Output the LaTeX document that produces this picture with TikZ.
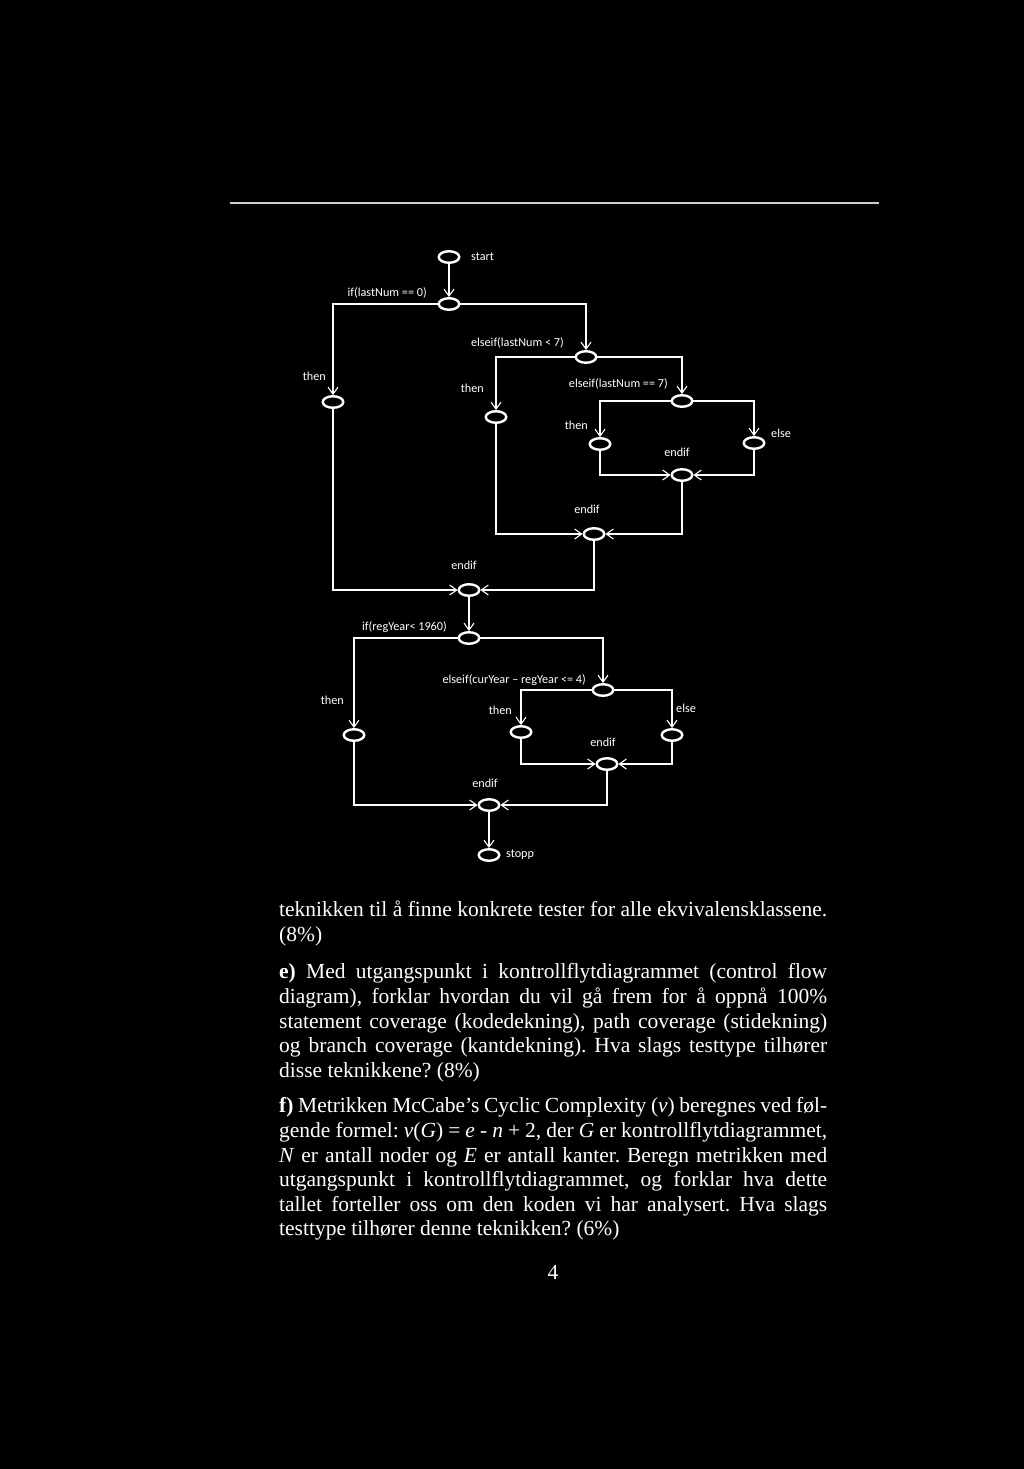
\documentclass[tikz,border=0pt]{standalone}
\usepackage{fontspec}
\setmainfont{Liberation Serif}
\newfontfamily\diagfont{Carlito}
\usetikzlibrary{arrows.meta,shapes.geometric}
\frenchspacing

\tikzset{
  st/.style={draw=white, line width=2.4pt, ellipse, minimum width=20.5pt, minimum height=11.5pt, inner sep=0pt},
  flow/.style={draw=white, line width=1.1pt, -{Straight Barb[length=7pt,width=10pt]}},
  lbl/.style={text=white, inner sep=0pt, font=\diagfont\fontsize{12.2}{14}\selectfont},
  para/.style={text=white, inner sep=0pt, anchor=north west, text width=548pt, align=justify,
    font=\fontsize{21.5}{24.6}\selectfont}
}

\begin{document}
\begin{tikzpicture}[x=1pt,y=1pt,yscale=-1]
%page
\fill[black] (0,0) rectangle (1024,1469);
\useasboundingbox (0,0) rectangle (1024,1469);
\draw[white!80!black, line width=1.3pt] (230,203) -- (879,203);

%States: first block
\node[st] (start) at (449,257) {};
\node[st] (if1) at (449,304) {};
\node[st] (elseif1) at (586,357) {};
\node[st] (then1) at (333,402) {};
\node[st] (then2) at (496,417) {};
\node[st] (if3) at (682,401) {};
\node[st] (then3) at (600,444) {};
\node[st] (else3) at (754,443) {};
\node[st] (endif3) at (682,475) {};
\node[st] (endif2) at (594,534) {};
\node[st] (endif1) at (469,590) {};
%States: second block
\node[st] (if4) at (469,638) {};
\node[st] (elseif4) at (603,690) {};
\node[st] (then4) at (354,735) {};
\node[st] (then5) at (521,732) {};
\node[st] (else5) at (672,735) {};
\node[st] (endif5) at (607,764) {};
\node[st] (endif6) at (489,805) {};
\node[st] (stop) at (489,855) {};

%Connectors
\draw[flow] (start) -- (if1);
\draw[flow] (if1) -| (then1);
\draw[flow] (if1) -| (elseif1);
\draw[flow] (elseif1) -| (then2);
\draw[flow] (elseif1) -| (if3);
\draw[flow] (if3) -| (then3);
\draw[flow] (if3) -| (else3);
\draw[flow] (then3) |- (endif3);
\draw[flow] (else3) |- (endif3);
\draw[flow] (then2) |- (endif2);
\draw[flow] (endif3) |- (endif2);
\draw[flow] (then1) |- (endif1);
\draw[flow] (endif2) |- (endif1);
\draw[flow] (endif1) -- (if4);
\draw[flow] (if4) -| (then4);
\draw[flow] (if4) -| (elseif4);
\draw[flow] (elseif4) -| (then5);
\draw[flow] (elseif4) -| (else5);
\draw[flow] (then5) |- (endif5);
\draw[flow] (else5) |- (endif5);
\draw[flow] (then4) |- (endif6);
\draw[flow] (endif5) |- (endif6);
\draw[flow] (endif6) -- (stop);

% Text Node
\node[lbl, anchor=west] (l-start) at (471,257) {start};
\node[lbl, anchor=east] (l-if1) at (427,293) {if(lastNum == 0)};
\node[lbl, anchor=east] (l-elseif1) at (564,343) {elseif(lastNum < 7)};
\node[lbl, anchor=east] (l-then1) at (326,376) {then};
\node[lbl, anchor=east] (l-then2) at (484,388) {then};
\node[lbl, anchor=east] (l-if3) at (668,384) {elseif(lastNum == 7)};
\node[lbl, anchor=east] (l-then3) at (588,425) {then};
\node[lbl, anchor=west] (l-else3) at (771,433) {else};
\node[lbl] (l-endif3) at (677,452) {endif};
\node[lbl] (l-endif2) at (587,509) {endif};
\node[lbl] (l-endif1) at (464,565) {endif};
\node[lbl, anchor=east] (l-if4) at (447,627) {if(regYear< 1960)};
\node[lbl, anchor=east] (l-then4) at (344,700) {then};
\node[lbl, anchor=east] (l-elseif4) at (586,680) {elseif(curYear – regYear <= 4)};
\node[lbl, anchor=east] (l-then5) at (512,710) {then};
\node[lbl, anchor=west] (l-else5) at (676,708) {else};
\node[lbl] (l-endif5) at (603,742) {endif};
\node[lbl] (l-endif6) at (485,783) {endif};
\node[lbl, anchor=west] (l-stop) at (506,855) {stopp};

% Text Node
\node[para] (p-d) at (279,899) {\strut teknikken til å finne konkrete tester for alle ekvivalensklassene.\linebreak (8\%)};
\node[para] (p-e) at (279,961.5) {\strut\textbf{e)} Med utgangspunkt i kontrollflytdiagrammet (control flow\linebreak
diagram), forklar hvordan du vil gå frem for å oppnå 100\%\linebreak
statement coverage (kodedekning), path coverage (stidekning)\linebreak
og branch coverage (kantdekning). Hva slags testtype tilhører\linebreak
disse teknikkene? (8\%)};
\node[para] (p-f) at (279,1095.5) {\strut\textbf{f)} Metrikken McCabe’s Cyclic Complexity (\textit{v}) beregnes ved føl-\linebreak
gende formel: \textit{v}(\textit{G}) = \textit{e} - \textit{n} + 2, der \textit{G} er kontrollflytdiagrammet,\linebreak
\textit{N} er antall noder og \textit{E} er antall kanter. Beregn metrikken med\linebreak
utgangspunkt i kontrollflytdiagrammet, og forklar hva dette\linebreak
tallet forteller oss om den koden vi har analysert. Hva slags\linebreak
testtype tilhører denne teknikken? (6\%)};
\node[text=white, inner sep=0pt, anchor=base, font=\fontsize{21.5}{24.6}\selectfont] (pageno) at (553,1279) {4};
\end{tikzpicture}
\end{document}
